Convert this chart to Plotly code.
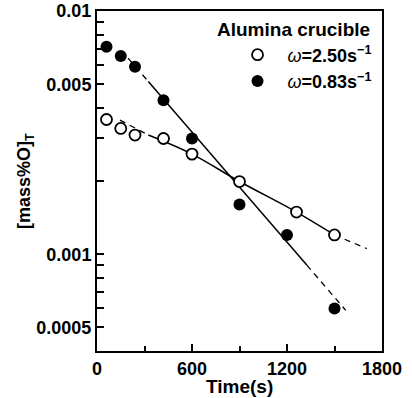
import plotly.graph_objects as go

# ---- data ----
time_open = [60, 150, 240, 420, 600, 900, 1260, 1500]
oxygen_open = [0.00358, 0.00329, 0.00309, 0.00299, 0.00258, 0.00199, 0.00149, 0.00120]
time_filled = [60, 150, 240, 420, 600, 900, 1200, 1500]
oxygen_filled = [0.00713, 0.00653, 0.00590, 0.00430, 0.00299, 0.00160, 0.00120, 0.000598]

# fitted curves (nodes)
fit_open_t = [145, 324, 600, 900, 1260, 1500, 1704]
fit_open_y = [0.00356, 0.00309, 0.00258, 0.00199, 0.00149, 0.00120, 0.001055]
fit_filled_t = [196, 324, 1325, 1571]
fit_filled_y = [0.0064, 0.00513, 0.000902, 0.000588]

x_tick_vals = [0, 600, 1200, 1800]
x_minor_vals = [300, 900, 1500]
y_tick_vals = [0.0005, 0.001, 0.005, 0.01]
y_tick_text = ["0.0005", "0.001", "0.005", "0.01"]
y_minor_vals = [0.0006, 0.0007, 0.0008, 0.0009, 0.002, 0.003, 0.004,
                0.006, 0.007, 0.008, 0.009]

label_open = '<span style="font-weight:normal"><i>ω</i></span>=2.50s<sup>−1</sup>'
label_filled = '<span style="font-weight:normal"><i>ω</i></span>=0.83s<sup>−1</sup>'

FONT = "Liberation Sans"
fig = go.Figure()

line_style = dict(color="black", width=1.5)
dash_style = dict(color="black", width=1.3, dash="6px,5px")

# open fit
fig.add_trace(go.Scatter(x=fit_open_t[0:2], y=fit_open_y[0:2], mode="lines",
                         line=dash_style, showlegend=False, hoverinfo="skip"))
fig.add_trace(go.Scatter(x=fit_open_t[1:6], y=fit_open_y[1:6], mode="lines",
                         line=dict(line_style, shape="spline"), showlegend=False, hoverinfo="skip"))
fig.add_trace(go.Scatter(x=fit_open_t[5:7], y=fit_open_y[5:7], mode="lines",
                         line=dash_style, showlegend=False, hoverinfo="skip"))
# filled fit
fig.add_trace(go.Scatter(x=fit_filled_t[0:2], y=fit_filled_y[0:2], mode="lines",
                         line=dash_style, showlegend=False, hoverinfo="skip"))
fig.add_trace(go.Scatter(x=fit_filled_t[1:3], y=fit_filled_y[1:3], mode="lines",
                         line=line_style, showlegend=False, hoverinfo="skip"))
fig.add_trace(go.Scatter(x=fit_filled_t[2:4], y=fit_filled_y[2:4], mode="lines",
                         line=dash_style, showlegend=False, hoverinfo="skip"))

fig.add_trace(go.Scatter(x=time_open, y=oxygen_open, mode="markers", name=label_open,
                         marker=dict(symbol="circle", size=11, color="white",
                                     line=dict(color="black", width=1.8))))
fig.add_trace(go.Scatter(x=time_filled, y=oxygen_filled, mode="markers", name=label_filled,
                         marker=dict(symbol="circle", size=12, color="black",
                                     line=dict(color="black", width=0))))

fig.update_layout(
    width=412, height=398,
    margin=dict(l=97, r=30, t=11, b=47, autoexpand=False),
    paper_bgcolor="white", plot_bgcolor="white",
    font=dict(family=FONT, size=18, color="black", weight="bold"),
    legend=dict(x=0.458, y=0.925, xanchor="left", yanchor="top",
                bgcolor="rgba(0,0,0,0)", font=dict(size=18, weight="bold"),
                itemwidth=50, tracegroupgap=0),
    xaxis=dict(range=[0, 1800], tickmode="array", tickvals=x_tick_vals,
               automargin=False,
               ticks="inside", ticklen=7, tickwidth=1.5, tickcolor="black",
               showline=True, linecolor="black", linewidth=2, mirror=True,
               showgrid=False, zeroline=False,
               tickfont=dict(size=18, weight="bold"),
               minor=dict(tickmode="array", tickvals=x_minor_vals, ticks="inside",
                          ticklen=5, tickwidth=1.5, tickcolor="black", showgrid=False)),
    yaxis=dict(type="log", range=[-3.39794, -2], tickmode="array",
               tickvals=y_tick_vals, ticktext=y_tick_text, automargin=False,
               ticks="inside", ticklen=7, tickwidth=1.5, tickcolor="black",
               showline=True, linecolor="black", linewidth=2, mirror=True,
               showgrid=False, zeroline=False,
               tickfont=dict(size=18, weight="bold"),
               minor=dict(tickmode="array", tickvals=y_minor_vals, ticks="inside",
                          ticklen=7, tickwidth=1.5, tickcolor="black", showgrid=False)),
    annotations=[
        dict(text="Alumina crucible", x=1 - 10/285, y=1 - 18/340, xref="paper", yref="paper",
             xanchor="right", yanchor="middle", showarrow=False,
             font=dict(size=19, weight="bold")),
        dict(text="Time(s)", x=0.5, y=-35/340, xref="paper", yref="paper",
             xanchor="center", yanchor="middle", showarrow=False,
             font=dict(size=19, weight="bold")),
        dict(text="[mass%O]<sub>T</sub>", x=-72/285, y=0.5, xref="paper", yref="paper",
             xanchor="center", yanchor="middle", showarrow=False, textangle=-90,
             font=dict(size=18, weight="bold")),
    ],
)

fig.write_html("out.html")
